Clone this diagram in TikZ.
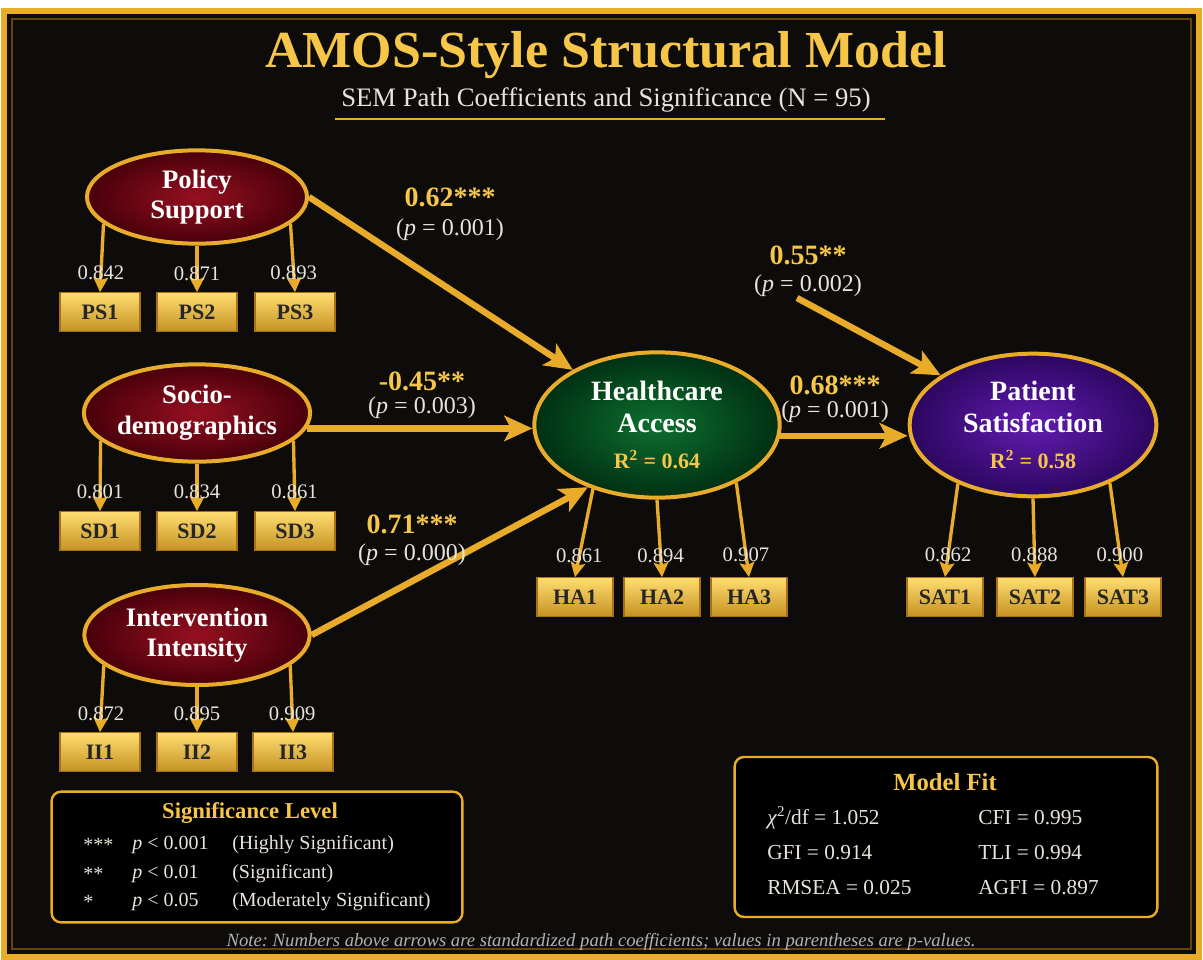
\documentclass[tikz,border=0pt]{standalone}
\usepackage{fontspec}
\setmainfont{Liberation Serif}
\usepackage{tikz}
\usetikzlibrary{shapes.geometric, arrows.meta, positioning, calc}
\definecolor{semgold}{RGB}{232,172,42}
\definecolor{semlightgold}{RGB}{255,221,112}
\definecolor{semdarkgold}{RGB}{168,112,20}
\definecolor{semtitle}{RGB}{246,198,72}
\definecolor{semtext}{RGB}{232,228,220}
\definecolor{semred}{RGB}{150,16,32}
\definecolor{semreddark}{RGB}{72,0,10}
\definecolor{semgreen}{RGB}{14,112,48}
\definecolor{semgreendark}{RGB}{0,48,18}
\definecolor{sempurple}{RGB}{98,28,176}
\definecolor{sempurpledark}{RGB}{44,6,96}
\definecolor{sembg}{RGB}{14,12,10}

\begin{document}
\begin{tikzpicture}[x=0.75pt, y=-0.75pt,
  latent/.style={ellipse, draw=semgold, line width=3pt, inner sep=0pt, align=center, text=white, font=\fontsize{20}{23}\selectfont\bfseries, minimum width=165pt, minimum height=70pt},
  exo/.style={latent, inner color=semred, outer color=semreddark},
  ind/.style={rectangle, draw=semdarkgold, line width=0.8pt, top color=semlightgold, bottom color=semgold!85!black, minimum width=60pt, minimum height=29pt, inner sep=1pt, text=black!85, font=\fontsize{16.5}{17}\selectfont\bfseries},
  arr/.style={-{Stealth[length=21pt, width=19pt, inset=5pt]}, line width=4.8pt, draw=semgold},
  load/.style={-{Stealth[length=11pt, width=11pt, inset=2pt]}, line width=2.5pt, draw=semgold},
  lval/.style={pos=0.72, text=semtext, font=\fontsize{15.5}{16}\selectfont},
  coef/.style={text=semtitle, font=\fontsize{21}{22}\selectfont\bfseries},
  pval/.style={text=semtext, font=\fontsize{18}{19}\selectfont},
  panel/.style={rectangle, rounded corners=7pt, draw=semgold, line width=1.8pt, fill=black},
  ptitle/.style={text=semtitle, font=\fontsize{17}{18}\selectfont\bfseries},
  prow/.style={anchor=west, inner sep=0pt, text=semtext, font=\fontsize{15}{16}\selectfont}
]
\useasboundingbox (0,0) rectangle (1203,960);
\fill[white] (0,0) rectangle (1203,960);
\draw[semgold, line width=4.5pt, fill=sembg] (4,11) rectangle (1199,957);
\draw[semdarkgold!60!black, line width=1pt] (12,19) rectangle (1191,949);

\node[text=semtitle, font=\fontsize{39}{42}\selectfont\bfseries] (title) at (606,55) {AMOS-Style Structural Model};
\node[text=semtext, font=\fontsize{20}{22}\selectfont, below=0pt of title] (sub) {SEM Path Coefficients and Significance (N = 95)};
\draw[semgold, line width=1.5pt] ($(sub.south west)+(-2,2)$) -- ($(sub.south east)+(10,2)$);

\node[exo] (ps) at (197,197) {Policy\\Support};
\node[exo, minimum width=169pt, minimum height=73pt] (sd) at (197,413) {Socio-\\demographics};
\node[exo, minimum width=169pt, minimum height=75pt] (ii) at (197,635) {Intervention\\Intensity};
\node[latent, inner color=semgreen, outer color=semgreendark, minimum width=184pt, minimum height=109pt, font=\fontsize{21}{24}\selectfont\bfseries] (ha) at (657,425) {Healthcare\\Access\\[3pt]{\color{semtitle}\fontsize{16.5}{18}\selectfont R\textsuperscript{2} = 0.64}};
\node[latent, inner color=sempurple, outer color=sempurpledark, minimum width=185pt, minimum height=107pt, font=\fontsize{21}{24}\selectfont\bfseries] (psat) at (1033,425) {Patient\\Satisfaction\\[3pt]{\color{semtitle}\fontsize{16.5}{18}\selectfont R\textsuperscript{2} = 0.58}};

\node[ind] (ps1) at (100,312) {PS1};
\node[ind] (ps2) at (197,312) {PS2};
\node[ind] (ps3) at (295,312) {PS3};
\node[ind] (sd1) at (100,531) {SD1};
\node[ind] (sd2) at (197,531) {SD2};
\node[ind] (sd3) at (295,531) {SD3};
\node[ind] (ii1) at (100,752) {II1};
\node[ind] (ii2) at (197,752) {II2};
\node[ind] (ii3) at (293,752) {II3};
\node[ind, minimum width=57pt] (ha1) at (575,597) {HA1};
\node[ind, minimum width=57pt] (ha2) at (662,597) {HA2};
\node[ind, minimum width=57pt] (ha3) at (749,597) {HA3};
\node[ind, minimum width=57pt] (sat1) at (945,597) {SAT1};
\node[ind, minimum width=57pt] (sat2) at (1035,597) {SAT2};
\node[ind, minimum width=57pt] (sat3) at (1123,597) {SAT3};

\draw[load] (ps.196) -- node[lval] {0.842} (ps1.north);
\draw[load] (ps.south) -- node[lval, pos=0.6] {0.871} (ps2.north);
\draw[load] (ps.344) -- node[lval] {0.893} (ps3.north);
\draw[load] (sd.196) -- node[lval] {0.801} (sd1.north);
\draw[load] (sd.south) -- node[lval, pos=0.6] {0.834} (sd2.north);
\draw[load] (sd.344) -- node[lval] {0.861} (sd3.north);
\draw[load] (ii.198) -- node[lval] {0.872} (ii1.north);
\draw[load] (ii.south) -- node[lval, pos=0.6] {0.895} (ii2.north);
\draw[load] (ii.342) -- node[lval] {0.909} (ii3.north);
\draw[load] (ha.225) -- node[lval, pos=0.76] {0.861} (ha1.north);
\draw[load] (ha.south) -- node[lval] {0.894} (ha2.north);
\draw[load] (ha.324) -- node[lval, pos=0.76] {0.907} (ha3.north);
\draw[load] (psat.218) -- node[lval, pos=0.76] {0.862} (sat1.north);
\draw[load] (psat.south) -- node[lval] {0.888} (sat2.north);
\draw[load] (psat.323) -- node[lval, pos=0.76] {0.900} (sat3.north);

\coordinate (s0) at (797,298);
\draw[arr] (ps.east) -- (ha);
\draw[arr] (sd.352) -- (sd.352 -| ha.west);
\draw[arr] (ii.east) -- (ha.222);
\draw[arr] (ha.355) -- (ha.355 -| psat.west);
\draw[arr] (s0) -- (psat);

\node[coef] (c1) at (450,197) {0.62***};
\node[pval, below=2pt of c1] {(\textit{p} = 0.001)};
\node[coef] (c2) at (422,381) {-0.45**};
\node[pval, below=-2pt of c2] {(\textit{p} = 0.003)};
\node[coef] (c3) at (412,524) {0.71***};
\node[pval, below=1pt of c3] {(\textit{p} = 0.000)};
\node[coef] (c4) at (835,385) {0.68***};
\node[pval, below=-2pt of c4] {(\textit{p} = 0.001)};
\node[coef] (c5) at (808,255) {0.55**};
\node[pval, below=1pt of c5] {(\textit{p} = 0.002)};

\node[panel, minimum width=308pt, minimum height=98pt] (sig) at (257,857) {};
\node[ptitle] at (250,813) {Significance Level};
\node[prow] at (83,845) {***};
\node[prow] at (132,845) {\textit{p} < 0.001};
\node[prow] at (232,845) {(Highly Significant)};
\node[prow] at (83,874) {**};
\node[prow] at (132,874) {\textit{p} < 0.01};
\node[prow] at (232,874) {(Significant)};
\node[prow] at (83,902) {*};
\node[prow] at (132,902) {\textit{p} < 0.05};
\node[prow] at (232,902) {(Moderately Significant)};

\node[panel, minimum width=317pt, minimum height=120pt] (fit) at (946,837) {};
\node[ptitle, font=\fontsize{18.5}{19}\selectfont\bfseries] at (945,782) {Model Fit};
\node[prow, font=\fontsize{16}{17}\selectfont] at (767,818) {\textit{χ}\textsuperscript{2}/df = 1.052};
\node[prow, font=\fontsize{16}{17}\selectfont] at (978,818) {CFI = 0.995};
\node[prow, font=\fontsize{16}{17}\selectfont] at (767,853) {GFI = 0.914};
\node[prow, font=\fontsize{16}{17}\selectfont] at (978,853) {TLI = 0.994};
\node[prow, font=\fontsize{16}{17}\selectfont] at (767,888) {RMSEA = 0.025};
\node[prow, font=\fontsize{16}{17}\selectfont] at (978,888) {AGFI = 0.897};

\node[text=gray!60, font=\fontsize{14}{15}\selectfont\itshape\frenchspacing] (note) at (601,942) {Note: Numbers above arrows are standardized path coefficients; values in parentheses are p-values.};
\end{tikzpicture}
\end{document}
